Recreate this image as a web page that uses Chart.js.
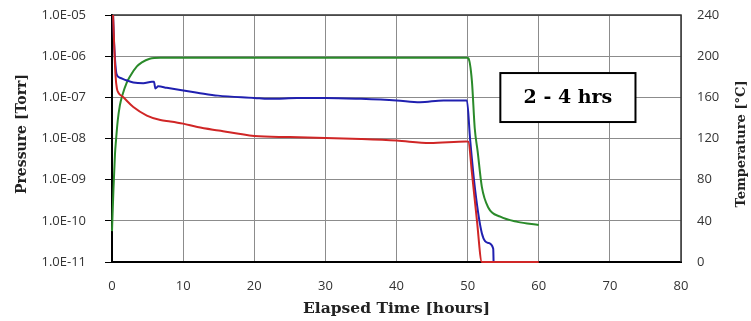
<!DOCTYPE html>
<html>
<head>
<meta charset="utf-8">
<script src="https://cdn.jsdelivr.net/npm/chart.js@4.4.1/dist/chart.umd.min.js"></script>
<style>
  html, body { margin: 0; padding: 0; background: #fff; }
  #wrap { width: 751px; height: 321px; position: relative; }
</style>
</head>
<body>
<div id="wrap"><canvas id="chartBake"></canvas></div>
<script>
// tempo em horas / pressao em Torr / temperatura em C
const redTime = [0.15, 0.3, 0.5, 0.7, 0.9, 1.6, 3, 4.9, 6.8, 8.2, 10, 12, 15, 20, 25, 30, 35, 40, 44.7, 49.8, 50.1, 50.6, 51.3, 52, 60];
const redPressure = [1e-5, 2e-6, 3.3e-7, 1.6e-7, 1.3e-7, 1e-7, 5.8e-8, 3.6e-8, 2.8e-8, 2.6e-8, 2.3e-8, 1.9e-8, 1.56e-8, 1.15e-8, 1.08e-8, 1.03e-8, 9.7e-9, 8.9e-9, 7.8e-9, 8.5e-9, 8.4e-9, 1.5e-9, 1.05e-10, 1e-11, 1e-11];

const blueTime = [0.15, 0.3, 0.65, 1.1, 2, 3, 4.4, 5.6, 5.9, 6.1, 6.5, 7.7, 9.6, 12, 14.9, 20, 22, 26, 30, 35, 40, 43.3, 46.6, 49.9, 50.35, 51.05, 52, 52.9, 53.6, 53.65];
const bluePressure = [1e-5, 2e-6, 3.6e-7, 3e-7, 2.6e-7, 2.3e-7, 2.2e-7, 2.4e-7, 2.4e-7, 1.65e-7, 1.85e-7, 1.7e-7, 1.5e-7, 1.3e-7, 1.1e-7, 9.7e-8, 9.2e-8, 9.6e-8, 9.7e-8, 9.2e-8, 8.4e-8, 7.6e-8, 8.4e-8, 8.4e-8, 9.5e-9, 5.7e-10, 5e-11, 2.9e-11, 2.1e-11, 1e-11];

const greenTime = [0, 0.2, 0.42, 0.56, 0.8, 1.1, 1.5, 2.06, 2.5, 3.5, 4.2, 5.3, 6.8, 10, 20, 30, 40, 49.9, 50.1, 50.6, 51.0, 51.4, 52, 52.9, 54.6, 57, 60];
const greenTemp = [30, 70, 105, 118, 137, 152, 163, 174, 180, 190, 194, 197.5, 198.5, 198.5, 198.5, 198.5, 198.5, 198.5, 198, 176, 130, 108, 73, 53, 44, 39, 36];

const timeTicks = [0, 10, 20, 30, 40, 50, 60, 70, 80];
const pressureTicks = [1e-11, 1e-10, 1e-9, 1e-8, 1e-7, 1e-6, 1e-5];
const tempTicks = [0, 40, 80, 120, 160, 200, 240];

const boxText = '2 - 4 hrs';
const pressureTitle = 'Pressure [Torr]';
const tempTitle = 'Temperature [°C]';

function pares(xs, ys) {
    return xs.map((x, i) => ({ x: x, y: ys[i] }));
}

function fmtExp(v) {
    const e = Math.round(Math.log10(v));
    const m = v / Math.pow(10, e);
    return m.toFixed(1) + 'E' + (e < 0 ? '-' : '+') + String(Math.abs(e)).padStart(2, '0');
}

function fixaLargura(w) {
    return s => {
        s.width = w;
        s.paddingTop = 0;
        s.paddingBottom = 0;
    };
}

const tickFont = { family: 'Open Sans', size: 13 };
const titleFont = { family: 'DejaVu Serif', size: 15.5, weight: 'bold' };

function tituloVertical(ctx, texto, x, y, font) {
    ctx.save();
    ctx.translate(x, y);
    ctx.rotate(-Math.PI / 2);
    ctx.fillStyle = '#222';
    ctx.font = font;
    ctx.textAlign = 'center';
    ctx.textBaseline = 'middle';
    ctx.fillText(texto, 0, 0);
    ctx.restore();
}

// moldura de cima/direita, titulos laterais e caixa de texto
const molduraPlugin = {
    id: 'moldura',
    beforeDatasetsDraw(chart) {
        const { ctx, chartArea: a } = chart;
        ctx.save();
        ctx.strokeStyle = '#333';
        ctx.lineWidth = 1.5;
        ctx.beginPath();
        ctx.moveTo(a.left, a.top);
        ctx.lineTo(a.right, a.top);
        ctx.lineTo(a.right, a.bottom);
        ctx.stroke();
        ctx.restore();
    },
    afterDatasetsDraw(chart) {
        const { ctx } = chart;
        const xs = chart.scales.x, ys = chart.scales.y1;
        const x1 = xs.getPixelForValue(54.6), x2 = xs.getPixelForValue(73.6);
        const y1 = ys.getPixelForValue(183.6), y2 = ys.getPixelForValue(136);
        ctx.save();
        ctx.fillStyle = '#fff';
        ctx.fillRect(x1, y1, x2 - x1, y2 - y1);
        ctx.strokeStyle = '#000';
        ctx.lineWidth = 2;
        ctx.strokeRect(x1, y1, x2 - x1, y2 - y1);
        ctx.fillStyle = '#000';
        ctx.font = 'bold 19px "DejaVu Serif"';
        ctx.textAlign = 'center';
        ctx.textBaseline = 'middle';
        ctx.fillText(boxText, (x1 + x2) / 2, (y1 + y2) / 2 + 1);
        ctx.restore();

        tituloVertical(ctx, pressureTitle, 22, 134, 'bold 14px "DejaVu Serif"');
        tituloVertical(ctx, tempTitle, chart.width - 9, 144, 'bold 13px "DejaVu Serif"');
    }
};

const ctx = document.getElementById('chartBake');

new Chart(ctx, {
    type: 'line',
    data: {
        datasets: [
            {
                data: pares(redTime, redPressure),
                yAxisID: 'y',
                borderColor: '#d02626',
                borderWidth: 2,
                pointRadius: 0,
                clip: 3,
                cubicInterpolationMode: 'monotone'
            },
            {
                data: pares(blueTime, bluePressure),
                yAxisID: 'y',
                borderColor: '#2020b0',
                borderWidth: 2,
                pointRadius: 0,
                clip: 3,
                cubicInterpolationMode: 'monotone'
            },
            {
                data: pares(greenTime, greenTemp),
                yAxisID: 'y1',
                borderColor: '#2a8a2a',
                borderWidth: 2,
                pointRadius: 0,
                clip: 3,
                cubicInterpolationMode: 'monotone'
            }
        ]
    },
    options: {
        responsive: true,
        maintainAspectRatio: false,
        animation: false,
        layout: { padding: { top: 15, left: 0, right: 0, bottom: 0 } },
        plugins: {
            legend: { display: false },
            tooltip: { enabled: false }
        },
        scales: {
            x: {
                type: 'linear',
                min: 0,
                max: 80,
                afterBuildTicks: s => { s.ticks = timeTicks.map(v => ({ value: v })); },
                afterFit: s => { s.height = 59; },
                ticks: { color: '#333', font: tickFont, padding: 16 },
                grid: { color: '#8c8c8c', lineWidth: 1, drawTicks: false },
                border: { color: '#000', width: 2 },
                title: {
                    display: true,
                    text: 'Elapsed Time [hours]',
                    color: '#222',
                    font: titleFont,
                    padding: { top: 0, bottom: 3 }
                }
            },
            y: {
                type: 'logarithmic',
                position: 'left',
                min: 1e-11,
                max: 1e-5,
                afterBuildTicks: s => { s.ticks = pressureTicks.map(v => ({ value: v })); },
                afterFit: fixaLargura(112),
                ticks: { color: '#333', font: tickFont, padding: 19, callback: v => fmtExp(v) },
                grid: { color: '#8c8c8c', lineWidth: 1, drawTicks: true, tickLength: 7, tickColor: '#000' },
                border: { color: '#000', width: 2 },
                title: { display: false }
            },
            y1: {
                type: 'linear',
                position: 'right',
                min: 0,
                max: 240,
                afterBuildTicks: s => { s.ticks = tempTicks.map(v => ({ value: v })); },
                afterFit: fixaLargura(70),
                ticks: { color: '#333', font: tickFont, padding: 16 },
                grid: { display: false, drawTicks: false },
                border: { display: false },
                title: { display: false }
            }
        }
    },
    plugins: [molduraPlugin]
});
</script>
</body>
</html>
